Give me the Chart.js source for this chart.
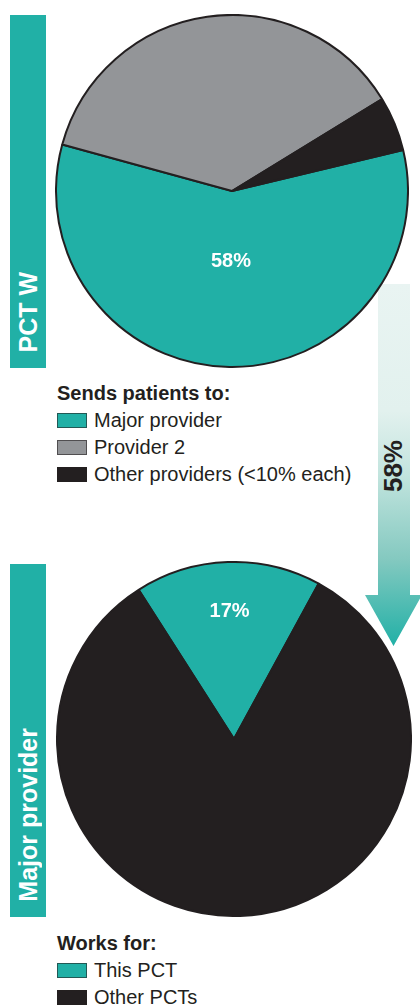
<!DOCTYPE html>
<html lang="en">
  <head>
    <meta charset="UTF-8" />
    <meta name="viewport" content="width=device-width, initial-scale=1.0" />
    <title>PCT W - where patients go</title>
    <script src="https://cdn.jsdelivr.net/npm/chart.js"></script>
    <style>
      body {
        margin: 0;
        padding: 0;
        background: #fff;
        font-family: "Liberation Sans", Arial, sans-serif;
        color: #231f20;
      }
      .page {
        position: relative;
        width: 420px;
        height: 1005px;
        overflow: hidden;
      }
      .side-bar {
        position: absolute;
        left: 10px;
        width: 36px;
        height: 353px;
        background: #21b0a6;
      }
      .side-bar span,
      .arrow-label {
        position: absolute;
        writing-mode: vertical-rl;
        transform: rotate(180deg);
        font-weight: bold;
        white-space: nowrap;
      }
      .side-bar span {
        left: 0;
        bottom: 15px;
        width: 36px;
        line-height: 36px;
        font-size: 25px;
        color: #fff;
      }
      .pie {
        position: absolute;
        z-index: 2;
      }
      .arrow {
        position: absolute;
        left: 365px;
        top: 284px;
        width: 57px;
        height: 362px;
        z-index: 1;
        background: linear-gradient(
          to bottom,
          #e9f4f2 0%,
          #e2f1ee 35%,
          #c4e5df 52%,
          #84c9c0 76%,
          #21b0a6 100%
        );
        clip-path: polygon(13px 0, 45px 0, 45px 311px, 57px 311px, 28.5px 362px, 0 311px, 13px 311px);
      }
      .arrow-label {
        left: 380px;
        top: 440px;
        font-size: 26px;
        line-height: 26px;
        z-index: 3;
      }
      .legend {
        position: absolute;
        left: 57px;
        font-size: 20px;
        line-height: 27px;
        white-space: nowrap;
      }
      .legend .title {
        font-weight: bold;
      }
      .legend .box {
        display: inline-block;
        box-sizing: border-box;
        width: 30px;
        height: 15px;
        margin-right: 7px;
        vertical-align: -1px;
        border: 1px solid rgba(35, 31, 32, 0.6);
      }
    </style>
  </head>
  <body>
    <div class="page">
      <div class="side-bar" style="top: 15px"><span>PCT W</span></div>
      <div class="pie" style="left: 55px; top: 14px; width: 354px; height: 354px">
        <canvas id="pctChart"></canvas>
      </div>
      <div class="legend" id="pctLegend" style="top: 380px"></div>

      <div class="arrow"></div>
      <div class="arrow-label" id="arrowLabel"></div>

      <div class="side-bar" style="top: 564px"><span>Major provider</span></div>
      <div class="pie" style="left: 56px; top: 561px; width: 356px; height: 356px">
        <canvas id="providerChart"></canvas>
      </div>
      <div class="legend" id="providerLegend" style="top: 930px"></div>
    </div>

    <script>
      // where PCT W sends its patients (%)
      const pctLabels = ["Major provider", "Provider 2", "Other providers (<10% each)"];
      const pctValues = [58, 37, 5];

      // who the major provider works for (%)
      const providerLabels = ["This PCT", "Other PCTs"];
      const providerValues = [17, 83];

      const teal = "#21b0a6";
      const grey = "#939598";
      const black = "#231f20";

      // white % label inside one slice
      const sliceLabel = {
        id: "sliceLabel",
        afterDatasetsDraw(chart, args, opts) {
          const arc = chart.getDatasetMeta(0).data[opts.index];
          const value = chart.data.datasets[0].data[opts.index];
          const mid = (arc.startAngle + arc.endAngle) / 2;
          const r = arc.outerRadius * opts.radius;
          const ctx = chart.ctx;
          ctx.save();
          ctx.fillStyle = "#fff";
          ctx.font = "bold 20px 'Liberation Sans', Arial, sans-serif";
          ctx.textAlign = "center";
          ctx.textBaseline = "middle";
          ctx.fillText(value + "%", arc.x + Math.cos(mid) * r, arc.y + Math.sin(mid) * r);
          ctx.restore();
        },
      };

      function makePie(id, labels, values, colors, rotation, labelRadius) {
        const ctx = document.getElementById(id).getContext("2d");
        return new Chart(ctx, {
          type: "pie",
          data: {
            labels: labels,
            datasets: [
              {
                data: values,
                backgroundColor: colors,
                borderColor: black,
                borderWidth: 2,
              },
            ],
          },
          options: {
            responsive: true,
            maintainAspectRatio: false,
            animation: false,
            rotation: rotation,
            layout: { padding: 0 },
            plugins: {
              legend: { display: false },
              tooltip: { enabled: false },
              sliceLabel: { index: 0, radius: labelRadius },
            },
          },
          plugins: [sliceLabel],
        });
      }

      function buildLegend(id, title, labels, colors) {
        const el = document.getElementById(id);
        let html = '<div class="title">' + title + "</div>";
        labels.forEach((label, i) => {
          html +=
            '<div><span class="box" style="background:' + colors[i] + '"></span>' +
            label.replace("<", "&lt;") + "</div>";
        });
        el.innerHTML = html;
      }

      const pctColors = [teal, grey, black];
      const providerColors = [teal, black];

      makePie("pctChart", pctLabels, pctValues, pctColors, 76.5, 0.4);
      makePie("providerChart", providerLabels, providerValues, providerColors, -32.6, 0.72);

      buildLegend("pctLegend", "Sends patients to:", pctLabels, pctColors);
      buildLegend("providerLegend", "Works for:", providerLabels, providerColors);

      document.getElementById("arrowLabel").textContent = pctValues[0] + "%";
    </script>
  </body>
</html>
